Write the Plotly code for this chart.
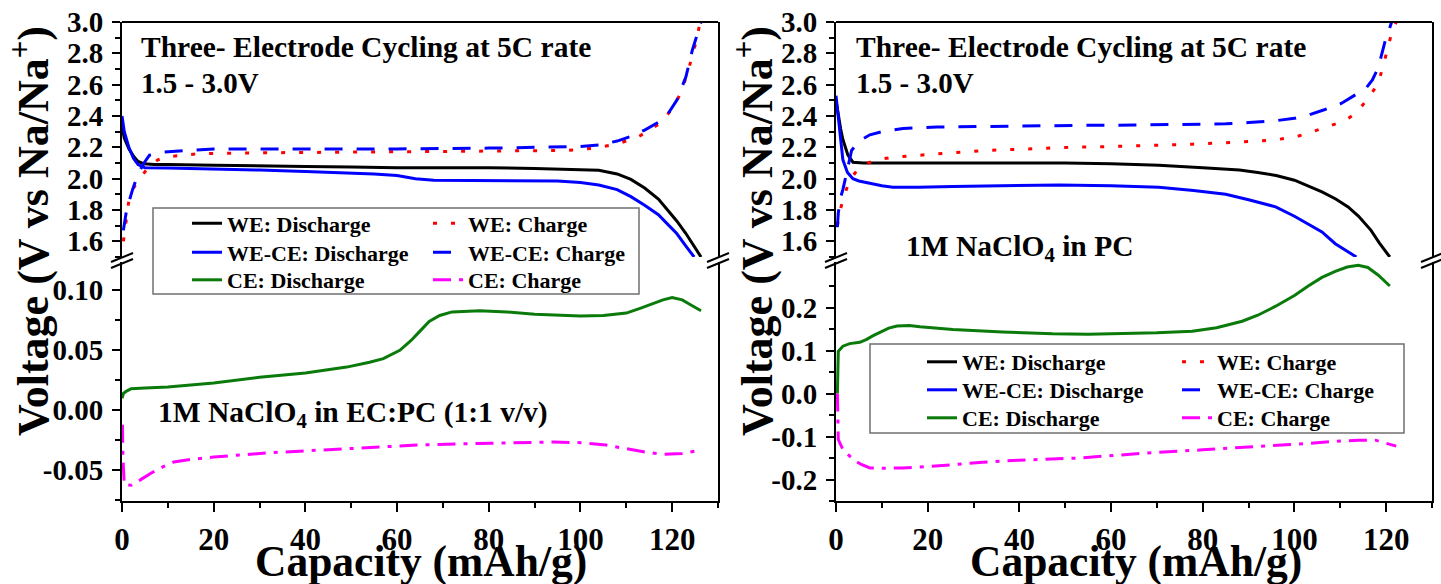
import plotly.graph_objects as go

# ---------------- data : left panel (1M NaClO4 in EC:PC) ----------------
L_we_dis_x = [0, 0.5, 1.5, 2.6, 3.5, 4.8, 7, 10, 20, 30, 40, 50, 60, 70, 80, 90, 100, 104, 108, 111, 114, 117, 119, 121, 123, 124.5, 126.3]
L_we_dis_y = [2.33, 2.26, 2.19, 2.14, 2.11, 2.095, 2.09, 2.09, 2.085, 2.08, 2.078, 2.075, 2.07, 2.07, 2.07, 2.065, 2.06, 2.054, 2.03, 1.995, 1.94, 1.87, 1.80, 1.73, 1.65, 1.58, 1.50]

L_wece_dis_x = [0, 0.5, 1.5, 2.5, 3.5, 5, 10, 20, 30, 40, 50, 55, 60, 64, 68, 75, 85, 95, 100, 104, 108, 111, 114, 117, 119, 121, 123, 124.8]
L_wece_dis_y = [2.40, 2.30, 2.20, 2.13, 2.09, 2.07, 2.068, 2.062, 2.055, 2.045, 2.035, 2.03, 2.02, 2.0, 1.99, 1.988, 1.988, 1.985, 1.975, 1.96, 1.93, 1.885, 1.83, 1.77, 1.71, 1.65, 1.57, 1.50]

L_we_chg_x = [0.3, 0.8, 1.5, 2.5, 4.1, 6, 7.8, 10, 17, 30, 45, 60, 75, 90, 97, 103, 107.8, 110.5, 112.8, 115, 117.2, 119, 120.8, 122.3, 123.7, 125, 125.9, 126.3]
L_we_chg_y = [1.60, 1.72, 1.86, 1.94, 2.01, 2.08, 2.12, 2.14, 2.16, 2.165, 2.168, 2.17, 2.172, 2.176, 2.18, 2.195, 2.22, 2.245, 2.27, 2.31, 2.35, 2.41, 2.48, 2.58, 2.71, 2.85, 2.97, 3.0]

L_wece_chg_x = [0.3, 1, 2.3, 3.5, 4.8, 6, 9.2, 15, 20, 40, 60, 80, 95, 100, 104, 108, 111, 114, 117, 119, 121, 123, 124.4, 125.5, 126.3]
L_wece_chg_y = [1.67, 1.80, 1.93, 2.03, 2.10, 2.15, 2.17, 2.18, 2.19, 2.19, 2.19, 2.195, 2.2, 2.205, 2.215, 2.24, 2.27, 2.31, 2.36, 2.41, 2.50, 2.65, 2.82, 2.93, 3.0]

L_ce_dis_x = [0, 0.3, 1, 2, 5, 10, 20, 30, 40, 49, 54, 57, 60.6, 63, 65, 67, 69.3, 72, 78, 84, 90, 95, 100, 105, 110, 113, 115.7, 118, 120, 122.2, 124, 126.3]
L_ce_dis_y = [0.010, 0.014, 0.016, 0.018, 0.0185, 0.0194, 0.0228, 0.0275, 0.031, 0.036, 0.040, 0.043, 0.050, 0.058, 0.066, 0.074, 0.079, 0.082, 0.083, 0.082, 0.080, 0.079, 0.0786, 0.079, 0.081, 0.085, 0.089, 0.092, 0.094, 0.092, 0.088, 0.083]

L_ce_chg_x = [0.1, 0.2, 0.5, 2, 4, 6.3, 9, 11.3, 15, 20, 31.7, 43.3, 53.5, 64.3, 75.2, 85, 94, 100, 105.6, 108.5, 111.3, 114.5, 117.8, 120, 122.2, 126.5]
L_ce_chg_y = [-0.012, -0.04, -0.062, -0.0625, -0.058, -0.0525, -0.047, -0.043, -0.041, -0.039, -0.0355, -0.033, -0.031, -0.029, -0.0278, -0.027, -0.0264, -0.027, -0.029, -0.031, -0.033, -0.035, -0.0367, -0.0366, -0.036, -0.033]

# ---------------- data : right panel (1M NaClO4 in PC) ----------------
R_we_dis_x = [0, 0.5, 1, 1.5, 2.6, 3.7, 6, 10, 20, 30, 40, 50, 60, 70.4, 80, 88, 92, 96, 100, 103, 106, 109, 111.7, 114, 116.7, 118.5, 120.8]
R_we_dis_y = [2.50, 2.40, 2.32, 2.25, 2.15, 2.105, 2.10, 2.10, 2.10, 2.10, 2.10, 2.10, 2.095, 2.085, 2.07, 2.055, 2.04, 2.02, 1.99, 1.955, 1.915, 1.87, 1.82, 1.76, 1.67, 1.59, 1.50]

R_wece_dis_x = [0, 0.5, 1, 1.5, 2.5, 3.7, 5, 7.4, 10, 12.4, 18, 25.5, 35, 48.7, 60, 70.4, 78, 85, 90, 95.9, 100, 103, 106, 108.9, 111, 113.5]
R_wece_dis_y = [2.53, 2.38, 2.24, 2.12, 2.04, 2.0, 1.985, 1.97, 1.955, 1.945, 1.945, 1.95, 1.955, 1.96, 1.955, 1.945, 1.925, 1.90, 1.865, 1.82, 1.76, 1.71, 1.66, 1.585, 1.545, 1.50]

R_we_chg_x = [0.3, 0.9, 2, 3, 4.5, 6.5, 8.9, 12, 18.3, 25, 32.8, 42, 50.9, 60, 70, 77.7, 87, 95, 100, 103, 107, 111, 113, 114.6, 116.5, 118.3, 119.7, 121.2, 122.2]
R_we_chg_y = [1.70, 1.80, 1.91, 1.99, 2.05, 2.095, 2.12, 2.135, 2.15, 2.165, 2.18, 2.19, 2.20, 2.205, 2.212, 2.22, 2.232, 2.245, 2.265, 2.29, 2.33, 2.37, 2.41, 2.46, 2.53, 2.61, 2.76, 2.93, 3.0]

R_wece_chg_x = [0.3, 0.5, 1, 1.5, 2.5, 3.4, 5, 7.4, 10, 14.6, 22, 32.8, 45, 53, 65, 75, 85, 90, 95.9, 100, 103, 106.5, 110.2, 113, 115.4, 117, 118.3, 119.7, 120.5, 121.2]
R_wece_chg_y = [1.69, 1.78, 1.88, 1.93, 2.06, 2.18, 2.24, 2.28, 2.30, 2.32, 2.33, 2.335, 2.34, 2.34, 2.342, 2.345, 2.35, 2.358, 2.37, 2.385, 2.405, 2.44, 2.48, 2.53, 2.57, 2.63, 2.71, 2.87, 2.94, 3.0]

R_ce_dis_x = [0.3, 0.35, 0.5, 1.5, 3, 5.2, 6.7, 8, 9.6, 11.5, 13.3, 16, 18.3, 25.5, 36.3, 47.2, 55, 63.2, 70, 77.7, 83, 88.6, 92, 95.9, 100, 103, 106, 108.9, 111.5, 113.9, 116, 118.3, 120.8]
R_ce_dis_y = [0.0, 0.05, 0.098, 0.11, 0.116, 0.119, 0.126, 0.134, 0.143, 0.152, 0.157, 0.158, 0.155, 0.149, 0.143, 0.139, 0.138, 0.14, 0.141, 0.145, 0.153, 0.168, 0.182, 0.203, 0.228, 0.25, 0.27, 0.284, 0.294, 0.298, 0.293, 0.275, 0.25]

R_ce_chg_x = [0.3, 0.35, 0.5, 1.5, 3.7, 5.5, 7.4, 10, 14.6, 20, 25.5, 32, 40, 53, 62, 70.4, 80, 88.6, 96, 103, 108, 113.9, 117.6, 120, 122.2]
R_ce_chg_y = [0.0, -0.06, -0.107, -0.13, -0.153, -0.165, -0.173, -0.174, -0.173, -0.17, -0.165, -0.16, -0.155, -0.15, -0.143, -0.1365, -0.131, -0.126, -0.121, -0.116, -0.112, -0.1085, -0.1085, -0.115, -0.1225]

# ---------------- tick labels ----------------
x_tickvals = [0, 20, 40, 60, 80, 100, 120]
x_ticktext = ["0", "20", "40", "60", "80", "100", "120"]
x_minorvals = [10, 30, 50, 70, 90, 110, 130]
up_tickvals = [1.6, 1.8, 2.0, 2.2, 2.4, 2.6, 2.8, 3.0]
up_ticktext = ["1.6", "1.8", "2.0", "2.2", "2.4", "2.6", "2.8", "3.0"]
up_minorvals = [1.5, 1.7, 1.9, 2.1, 2.3, 2.5, 2.7, 2.9]
lowL_tickvals = [-0.05, 0.0, 0.05, 0.10]
lowL_ticktext = ["-0.05", "0.00", "0.05", "0.10"]
lowL_minorvals = [-0.075, -0.025, 0.025, 0.075]
lowR_tickvals = [-0.2, -0.1, 0.0, 0.1, 0.2]
lowR_ticktext = ["-0.2", "-0.1", "0.0", "0.1", "0.2"]
lowR_minorvals = [-0.25, -0.15, -0.05, 0.05, 0.15, 0.25]

W, H = 1441, 584
FONT = "Liberation Serif"

def px_x(p):
    return p / W

def px_y(p):
    return 1 - p / H

BLACK = "#000000"
BLUE = "#0000FF"
RED = "#FF0000"
GREEN = "#0A7A0A"
MAGENTA = "#FF00FF"
LW = 3

DOT = "4px,14px"
DASH = "18px,14px"
DASHDOT = "18px,8px,4px,8px"

fig = go.Figure()

legend_layout = {}
legend_count = [0]

def add(x, y, name, color, dash, xa, ya, text_x, text_y):
    legend_count[0] += 1
    n = legend_count[0]
    key = "legend" if n == 1 else "legend%d" % n
    legend_layout[key] = dict(orientation="v", bgcolor="rgba(0,0,0,0)", borderwidth=0,
                              xanchor="left", yanchor="middle", itemwidth=30,
                              x=px_x(text_x - 40), y=px_y(text_y),
                              font=dict(family=FONT, size=22, color="black", weight="bold"))
    fig.add_trace(go.Scatter(x=x, y=y, mode="lines", name=name,
                             line=dict(color=color, width=LW, dash=dash),
                             xaxis=xa, yaxis=ya, legend=key, showlegend=True))

# left panel
add(L_we_dis_x, L_we_dis_y, "WE: Discharge", BLACK, "solid", "x", "y2", 227, 223.5)
add(L_wece_dis_x, L_wece_dis_y, "WE-CE: Discharge", BLUE, "solid", "x", "y2", 227, 252.5)
add(L_ce_dis_x, L_ce_dis_y, "CE: Discharge", GREEN, "solid", "x", "y", 227, 280)
add(L_we_chg_x, L_we_chg_y, "WE: Charge", RED, DOT, "x", "y2", 468, 223.5)
add(L_wece_chg_x, L_wece_chg_y, "WE-CE: Charge", BLUE, DASH, "x", "y2", 468, 252.5)
add(L_ce_chg_x, L_ce_chg_y, "CE: Charge", MAGENTA, DASHDOT, "x", "y", 468, 280)
# right panel
add(R_we_dis_x, R_we_dis_y, "WE: Discharge", BLACK, "solid", "x2", "y4", 962, 362)
add(R_wece_dis_x, R_wece_dis_y, "WE-CE: Discharge", BLUE, "solid", "x2", "y4", 962, 390)
add(R_ce_dis_x, R_ce_dis_y, "CE: Discharge", GREEN, "solid", "x2", "y3", 962, 418)
add(R_we_chg_x, R_we_chg_y, "WE: Charge", RED, DOT, "x2", "y4", 1217, 362)
add(R_wece_chg_x, R_wece_chg_y, "WE-CE: Charge", BLUE, DASH, "x2", "y4", 1217, 390)
add(R_ce_chg_x, R_ce_chg_y, "CE: Charge", MAGENTA, DASHDOT, "x2", "y3", 1217, 418)

tickfont_x = dict(family=FONT, size=31, color="black", weight="bold")
tickfont_y = dict(family=FONT, size=29, color="black", weight="bold")

def xax(domain, anchor):
    return dict(domain=domain, anchor=anchor, range=[0, 130], tickmode="array",
                tickvals=x_tickvals, ticktext=x_ticktext, ticks="outside", ticklen=9,
                tickwidth=2, tickcolor="black", showline=True, linewidth=2, linecolor="black",
                showgrid=False, zeroline=False, tickfont=tickfont_x, automargin=False,
                ticklabelstandoff=1,
                minor=dict(tickmode="array", tickvals=x_minorvals, ticks="outside", ticklen=5,
                           tickwidth=2, tickcolor="black", showgrid=False))

def yax(domain, anchor, rng, tv, tt, mv):
    return dict(domain=domain, anchor=anchor, range=rng, tickmode="array",
                tickvals=tv, ticktext=tt, ticks="outside", ticklen=8, tickwidth=2,
                tickcolor="black", showline=True, linewidth=2, linecolor="black", mirror=True,
                showgrid=False, zeroline=False, tickfont=tickfont_y, automargin=False,
                ticklabelstandoff=3,
                minor=dict(tickmode="array", tickvals=mv, ticks="outside", ticklen=5,
                           tickwidth=2, tickcolor="black", showgrid=False))

XL = [px_x(122), px_x(718)]
XR = [px_x(836), px_x(1432)]
YU = [px_y(257), px_y(22)]
YLo = [px_y(501), px_y(262)]

fig.update_layout(
    width=W, height=H, margin=dict(l=0, r=0, t=0, b=0, autoexpand=False),
    paper_bgcolor="white", plot_bgcolor="white",
    font=dict(family=FONT, size=29, color="black", weight="bold"),
    xaxis=xax(XL, "y"),
    xaxis2=xax(XR, "y3"),
    yaxis=yax(YLo, "x", [-0.0756, 0.1236], lowL_tickvals, lowL_ticktext, lowL_minorvals),
    yaxis2=yax(YU, "x", [1.5, 3.0], up_tickvals, up_ticktext, up_minorvals),
    yaxis3=yax(YLo, "x2", [-0.25, 0.3058], lowR_tickvals, lowR_ticktext, lowR_minorvals),
    yaxis4=yax(YU, "x2", [1.5, 3.0], up_tickvals, up_ticktext, up_minorvals),
)
fig.update_layout(**legend_layout)

shapes = []
shapes.append(dict(type="rect", xref="paper", yref="paper", x0=px_x(153), x1=px_x(639),
                   y0=px_y(294), y1=px_y(208), line=dict(color="#707070", width=1.5),
                   fillcolor="rgba(0,0,0,0)", layer="above"))
shapes.append(dict(type="rect", xref="paper", yref="paper", x0=px_x(870), x1=px_x(1404),
                   y0=px_y(433), y1=px_y(344), line=dict(color="#707070", width=1.5),
                   fillcolor="rgba(0,0,0,0)", layer="above"))
for xr, yr in (("x domain", "y2 domain"), ("x2 domain", "y4 domain")):
    shapes.append(dict(type="line", xref=xr, yref=yr, x0=0, x1=1, y0=1, y1=1,
                       line=dict(color="black", width=2)))
for xp in (122, 718, 836, 1432):
    for dy in (0, 6):
        shapes.append(dict(type="line", xref="paper", yref="paper",
                           x0=px_x(xp - 11), y0=px_y(262 + dy),
                           x1=px_x(xp + 11), y1=px_y(253 + dy),
                           line=dict(color="black", width=2)))
fig.update_layout(shapes=shapes)

ann = []
def text(x, y, s, size, xanchor="left", angle=0):
    ann.append(dict(x=px_x(x), y=px_y(y), xref="paper", yref="paper", text=s,
                    showarrow=False, xanchor=xanchor, yanchor="middle", textangle=angle,
                    font=dict(family=FONT, size=size, color="black", weight="bold")))

text(139, 47, "Three- Electrode Cycling at 5C rate", 29.5)
text(139, 83, "1.5 - 3.0V", 29)
text(156, 414, "1M NaClO<sub>4</sub> in EC:PC (1:1 v/v)", 29.5)
text(854, 47, "Three- Electrode Cycling at 5C rate", 29.5)
text(854, 83, "1.5 - 3.0V", 29)
text(904, 248, "1M NaClO<sub>4</sub> in PC", 29.5)
text(421, 561, "Capacity (mAh/g)", 43.5, xanchor="center")
text(1136, 561, "Capacity (mAh/g)", 43.5, xanchor="center")
text(30, 231, "Voltage (V vs Na/Na<sup>+</sup>)", 44, xanchor="center", angle=-90)
text(754, 231, "Voltage (V vs Na/Na<sup>+</sup>)", 44, xanchor="center", angle=-90)
fig.update_layout(annotations=ann)

fig.write_html("out.html")
